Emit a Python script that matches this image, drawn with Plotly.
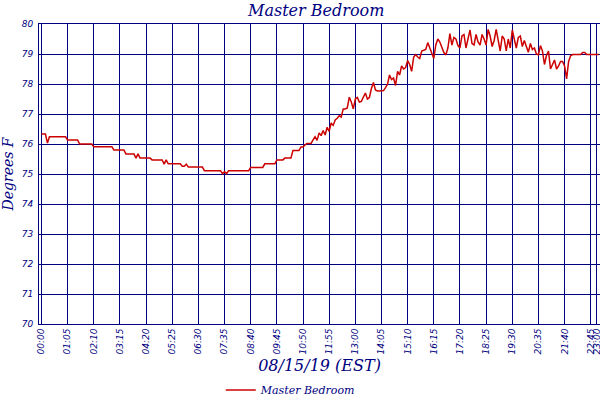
import plotly.graph_objects as go

# 5-minute readings starting 00:00 on 08/15/19
temps = [
    76.33, 76.33, 76.33, 76.03, 76.24, 76.24, 76.24, 76.24, 76.24, 76.24, 76.24, 76.24,
    76.24, 76.13, 76.13, 76.13, 76.13, 76.13, 76.13, 76.0, 76.0, 76.0, 76.0, 76.0,
    76.0, 76.0, 75.91, 75.91, 75.91, 75.91, 75.91, 75.91, 75.91, 75.91, 75.91, 75.91,
    75.8, 75.8, 75.8, 75.8, 75.8, 75.8, 75.67, 75.67, 75.67, 75.67, 75.67, 75.53,
    75.67, 75.53, 75.53, 75.53, 75.53, 75.53, 75.53, 75.47, 75.47, 75.47, 75.47, 75.47,
    75.47, 75.33, 75.47, 75.34, 75.34, 75.34, 75.34, 75.34, 75.34, 75.34, 75.26, 75.26,
    75.33, 75.23, 75.23, 75.23, 75.23, 75.23, 75.23, 75.23, 75.23, 75.11, 75.11, 75.11,
    75.11, 75.11, 75.11, 75.11, 75.11, 75.11, 75.01, 75.08, 75.01, 75.11, 75.11, 75.11,
    75.11, 75.11, 75.11, 75.11, 75.11, 75.11, 75.11, 75.11, 75.22, 75.22, 75.22, 75.22,
    75.22, 75.22, 75.22, 75.34, 75.34, 75.34, 75.34, 75.34, 75.34, 75.47, 75.47, 75.47,
    75.47, 75.53, 75.53, 75.53, 75.53, 75.78, 75.78, 75.78, 75.78, 75.9, 75.9, 75.97,
    76.02, 76.02, 76.02, 76.14, 76.24, 76.12, 76.37, 76.28, 76.45, 76.3, 76.56, 76.42,
    76.7, 76.62, 76.8, 76.86, 76.94, 76.9, 77.17, 77.17, 77.2, 77.56, 77.4, 77.17,
    77.5, 77.55, 77.4, 77.42, 77.56, 77.7, 77.5, 77.55, 77.85, 78.05, 77.8, 77.77,
    77.77, 77.77, 77.78, 77.88, 77.99, 78.3, 78.15, 78.2, 77.95, 78.42, 78.3, 78.6,
    78.5, 78.55, 78.78, 78.65, 78.42, 78.9, 78.98, 78.9, 78.85, 79.1, 79.12, 79.15,
    79.38, 79.2, 79.05, 78.85, 79.3, 79.5, 79.4, 79.2, 79.05, 78.97, 79.2, 79.68,
    79.3, 79.55, 79.5, 79.28, 79.2, 79.6, 79.65, 79.2, 79.55, 79.8, 79.35, 79.3,
    79.65, 79.4, 79.3, 79.65, 79.5, 79.3, 79.82, 79.6, 79.25, 79.45, 79.82, 79.45,
    79.1, 79.6, 79.5, 79.1, 79.5, 79.2, 79.8, 79.5, 79.2, 79.55, 79.6, 79.25,
    79.45, 79.25, 79.06, 79.35, 79.15, 79.2, 79.0, 78.97, 79.28, 79.1, 78.65, 78.95,
    79.1, 78.5, 78.68, 78.8, 78.5, 78.6, 78.75, 78.75, 78.6, 78.17, 78.75, 78.94,
    78.98, 78.98, 78.98, 78.98, 78.98, 79.05, 79.05, 78.98, 78.98, 78.98, 78.98, 78.98,
    78.98, 78.98,
]
step_min = 5
minutes = [i * step_min for i in range(len(temps))]

tick_labels = ["00:00", "01:05", "02:10", "03:15", "04:20", "05:25", "06:30", "07:35",
               "08:40", "09:45", "10:50", "11:55", "13:00", "14:05", "15:10", "16:15",
               "17:20", "18:25", "19:30", "20:35", "21:40", "22:45", "23:00"]
tick_vals = [int(t[:2]) * 60 + int(t[3:]) for t in tick_labels]

navy = "#000080"
serif = "DejaVu Serif"
sans = "DejaVu Sans"

fig = go.Figure()
fig.add_trace(go.Scatter(
    x=minutes, y=temps, mode="lines", name="Master Bedroom",
    line=dict(color="#cc0000", width=1.5)
))

fig.update_layout(
    width=600, height=400,
    paper_bgcolor="white", plot_bgcolor="white",
    margin=dict(l=39, r=0, t=24, b=76),
    title=dict(text="Master Bedroom", x=0.527, xanchor="center", y=0.975, yanchor="middle",
               font=dict(family=serif, size=16, color=navy, style="italic")),
    showlegend=True,
    legend=dict(orientation="h", x=0.324, xanchor="left",
                yref="container", y=0.025, yanchor="middle",
                font=dict(family=serif, size=11, color=navy, style="italic"),
                bgcolor="rgba(0,0,0,0)"),
)

fig.update_xaxes(
    range=[-6, 1388], tickvals=tick_vals, ticktext=tick_labels, tickangle=-90,
    tickfont=dict(family=sans, size=9, color=navy, style="italic"),
    ticklabeloverflow="allow",
    showgrid=True, gridcolor=navy, gridwidth=1, zeroline=False,
    showline=True, linecolor=navy, linewidth=1, mirror=True, ticks="",
    title=dict(text="08/15/19 (EST)", standoff=7,
               font=dict(family=serif, size=16, color=navy, style="italic")),
    automargin=False,
)
fig.update_yaxes(
    range=[70, 80], dtick=1, tick0=70, ticklabelstandoff=3,
    tickfont=dict(family=sans, size=9, color=navy, style="italic"),
    showgrid=True, gridcolor=navy, gridwidth=1, zeroline=False,
    showline=True, linecolor=navy, linewidth=1, mirror=True, ticks="",
    title=dict(text="Degrees F", standoff=6,
               font=dict(family=serif, size=14, color=navy, style="italic")),
    automargin=False,
)

# the page body has a default 8px margin; drop it so the 600x400 figure fills the window
fig.write_html("out.html", config={"displayModeBar": False},
               post_script="document.body.style.margin='0';")
